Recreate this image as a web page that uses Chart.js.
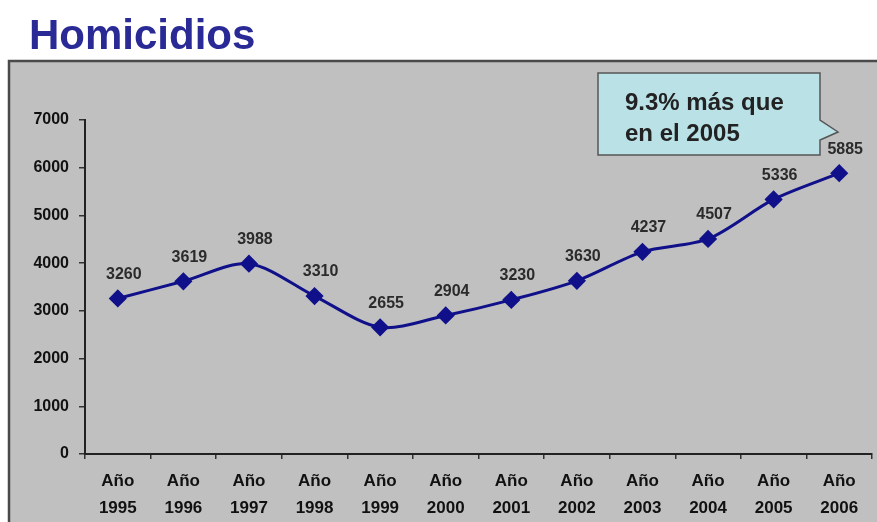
<!DOCTYPE html>
<html>
<head>
<meta charset="utf-8">
<script src="https://cdn.jsdelivr.net/npm/chart.js@4/dist/chart.umd.min.js"></script>
<style>
html,body{margin:0;padding:0;background:#fff;}
#wrap{position:relative;width:877px;height:522px;}
</style>
</head>
<body>
<div id="wrap"><canvas id="c" width="877" height="522"></canvas></div>
<script>
const categories = [['Año','1995'],['Año','1996'],['Año','1997'],['Año','1998'],['Año','1999'],['Año','2000'],['Año','2001'],['Año','2002'],['Año','2003'],['Año','2004'],['Año','2005'],['Año','2006']];
const homicidios = [3260, 3619, 3988, 3310, 2655, 2904, 3230, 3630, 4237, 4507, 5336, 5885];
const yTicks = [0, 1000, 2000, 3000, 4000, 5000, 6000, 7000];
const titleText = 'Homicidios';
const calloutLines = ['9.3% más que', 'en el 2005'];

const FONT = '"Liberation Sans", Arial, sans-serif';

const backdrop = {
  id: 'backdrop',
  beforeDraw(chart) {
    const ctx = chart.ctx;
    ctx.save();
    ctx.fillStyle = '#ffffff';
    ctx.fillRect(0, 0, chart.width, chart.height);
    ctx.fillStyle = '#c0c0c0';
    ctx.fillRect(9, 61, chart.width - 9, chart.height - 61);
    ctx.strokeStyle = '#4a4a4a';
    ctx.lineWidth = 2.5;
    ctx.beginPath();
    ctx.moveTo(9, chart.height);
    ctx.lineTo(9, 61);
    ctx.lineTo(chart.width, 61);
    ctx.stroke();
    ctx.fillStyle = '#2a2a96';
    ctx.font = 'bold 42px ' + FONT;
    ctx.textBaseline = 'alphabetic';
    ctx.textAlign = 'left';
    ctx.fillText(titleText, 29, 49);
    ctx.restore();
  }
};

const labelsPlugin = {
  id: 'valueLabels',
  afterDatasetsDraw(chart) {
    const ctx = chart.ctx;
    const meta = chart.getDatasetMeta(0);
    ctx.save();
    ctx.fillStyle = '#2b2b2b';
    ctx.font = 'bold 16px ' + FONT;
    ctx.textAlign = 'center';
    ctx.textBaseline = 'middle';
    meta.data.forEach((pt, i) => {
      ctx.fillText(String(homicidios[i]), pt.x + 6, pt.y - 24);
    });
    // callout
    const x0 = 598, y0 = 73, x1 = 820, y1 = 155;
    ctx.beginPath();
    ctx.moveTo(x0, y0);
    ctx.lineTo(x1, y0);
    ctx.lineTo(x1, 120);
    ctx.lineTo(838, 132);
    ctx.lineTo(x1, 140);
    ctx.lineTo(x1, y1);
    ctx.lineTo(x0, y1);
    ctx.closePath();
    ctx.fillStyle = '#b9e1e6';
    ctx.fill();
    ctx.strokeStyle = '#555555';
    ctx.lineWidth = 1.5;
    ctx.stroke();
    ctx.fillStyle = '#222222';
    ctx.font = 'bold 24px ' + FONT;
    ctx.textAlign = 'left';
    ctx.textBaseline = 'alphabetic';
    ctx.fillText(calloutLines[0], 625, 110);
    ctx.fillText(calloutLines[1], 625, 141);
    ctx.restore();
  }
};

new Chart(document.getElementById('c'), {
  type: 'line',
  data: {
    labels: categories,
    datasets: [{
      data: homicidios,
      borderColor: '#10108a',
      backgroundColor: '#10108a',
      borderWidth: 3,
      pointStyle: 'rectRot',
      pointRadius: 7,
      pointHoverRadius: 7,
      pointBackgroundColor: '#10108a',
      pointBorderColor: '#10108a',
      tension: 0.3,
      fill: false
    }]
  },
  options: {
    responsive: false,
    animation: false,
    events: [],
    layout: { padding: { top: 120, right: 5, left: 0, bottom: 0 }, autoPadding: false },
    plugins: { legend: { display: false }, tooltip: { enabled: false }, title: { display: false } },
    scales: {
      x: {
        offset: true,
        afterFit(s) { s.height = 68; s.paddingLeft = 0; s.paddingRight = 0; },
        grid: { display: true, offset: true, drawOnChartArea: false, drawTicks: true, tickLength: 5, color: '#333', lineWidth: 1.5 },
        border: { display: true, color: '#222', width: 2 },
        ticks: { color: '#111', font: { family: FONT, weight: 'bold', size: 17, lineHeight: 1.6 }, padding: 9, maxRotation: 0, autoSkip: false }
      },
      y: {
        min: 0, max: 7000,
        afterFit(s) { s.width = 85; s.paddingTop = 0; s.paddingBottom = 0; },
        afterBuildTicks(s) { s.ticks = yTicks.map(v => ({ value: v })); },
        grid: { display: true, drawOnChartArea: false, drawTicks: true, tickLength: 6, color: '#333', lineWidth: 1.5 },
        border: { display: true, color: '#222', width: 2 },
        ticks: { color: '#111', font: { family: FONT, weight: 'bold', size: 16 }, padding: 10, callback: v => String(v) }
      }
    }
  },
  plugins: [backdrop, labelsPlugin]
});
</script>
</body>
</html>
